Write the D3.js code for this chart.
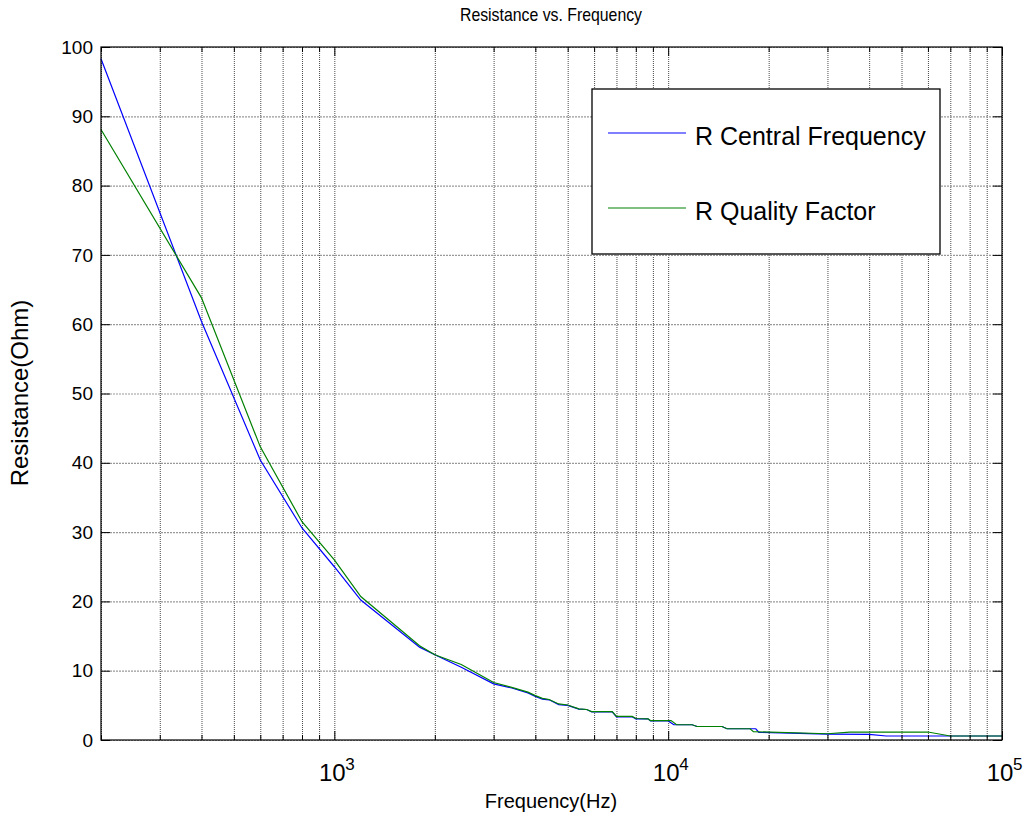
<!DOCTYPE html>
<html>
<head>
<meta charset="utf-8">
<script src="https://cdn.jsdelivr.net/npm/d3@7"></script>
<style>
  html, body { margin: 0; padding: 0; background: #fff; }
  svg { display: block; font-family: "Liberation Sans", Arial, sans-serif; }
</style>
</head>
<body>
<svg id="chart" width="1025" height="824"></svg>
<script>
// Frequency sweep (Hz) and extracted resistance (Ohm) for the two methods
const freqCentral = [200, 400, 600, 800, 1000, 1200, 1800, 2000, 2400, 3000, 3400, 3800, 4000, 4200, 4400, 4700, 5000,
  5400, 5700, 5900, 6800, 7000, 7800, 8000, 8700, 8850, 10000, 10400, 11800, 12200, 14500, 15000, 18300, 18700,
  30000, 40000, 45000, 100000];
const rCentral = [98.3, 60.4, 40.4, 30.6, 25.0, 20.2, 13.4, 12.3, 10.5, 8.1, 7.5, 6.8, 6.3, 5.9, 5.8, 5.1, 5.0,
  4.45, 4.4, 4.05, 4.05, 3.35, 3.35, 3.05, 3.05, 2.75, 2.75, 2.2, 2.2, 1.95, 1.95, 1.62, 1.62, 1.1,
  0.85, 0.82, 0.58, 0.58];

const freqQuality = [200, 400, 600, 800, 1000, 1200, 1800, 2000, 2400, 3000, 3400, 3800, 4000, 4200, 4400, 4700, 5000,
  5400, 5700, 5900, 6800, 7000, 7800, 8000, 8700, 8850, 10200, 10600, 11800, 12200, 14500, 15000, 17600, 18000,
  30000, 35000, 60000, 70000, 100000];
const rQuality = [88.1, 63.8, 42.3, 31.5, 26.0, 20.7, 13.6, 12.3, 10.9, 8.3, 7.6, 6.9, 6.4, 6.0, 5.85, 5.2, 5.05,
  4.5, 4.4, 4.1, 4.1, 3.4, 3.4, 3.1, 3.05, 2.8, 2.8, 2.2, 2.2, 1.95, 1.95, 1.62, 1.62, 1.2,
  0.9, 1.15, 1.15, 0.58, 0.58];

const seriesNames = ["R Central Frequency", "R Quality Factor"];
const seriesColors = ["#0000ff", "#008000"];

const yTicks = [0, 10, 20, 30, 40, 50, 60, 70, 80, 90, 100];
const xMajorTicks = [1000, 10000, 100000];
const xMajorExponents = ["3", "4", "5"];
const xMinorTicks = [200, 300, 400, 500, 600, 700, 800, 900,
  2000, 3000, 4000, 5000, 6000, 7000, 8000, 9000,
  20000, 30000, 40000, 50000, 60000, 70000, 80000, 90000];

const titleText = "Resistance vs. Frequency";
const xLabelText = "Frequency(Hz)";
const yLabelText = "Resistance(Ohm)";

// Plot frame
const plotLeft = 101, plotRight = 1002, plotTop = 47, plotBottom = 740;
const svg = d3.select("#chart");

const x = d3.scaleLog().domain([200, 100000]).range([plotLeft, plotRight]);
const y = d3.scaleLinear().domain([0, 100]).range([plotBottom, plotTop]);

// Dotted grid
const allX = xMinorTicks.concat(xMajorTicks).sort((a, b) => a - b);
svg.append("g")
  .attr("transform", `translate(0,${plotBottom})`)
  .call(d3.axisBottom(x).tickValues(allX).tickSize(-(plotBottom - plotTop)).tickFormat(""))
  .call(g => g.select(".domain").remove())
  .call(g => g.selectAll("line").attr("stroke", "#4a4a4a").attr("stroke-dasharray", "1,1"));
svg.append("g")
  .attr("transform", `translate(${plotLeft},0)`)
  .call(d3.axisLeft(y).tickValues(yTicks).tickSize(-(plotRight - plotLeft)).tickFormat(""))
  .call(g => g.select(".domain").remove())
  .call(g => g.selectAll("line").attr("stroke", "#999").attr("stroke-width", 1.2).attr("stroke-dasharray", "2,1"));

// Curves
const line = d3.line().x(d => x(d[0])).y(d => y(d[1]));
const seriesData = [
  d3.zip(freqCentral, rCentral),
  d3.zip(freqQuality, rQuality)
];
seriesData.forEach((data, i) => {
  svg.append("path")
    .datum(data)
    .attr("fill", "none")
    .attr("stroke", seriesColors[i])
    .attr("stroke-width", 1.2)
    .attr("d", line);
});

// Inward ticks on all four sides
function styleAxis(g) {
  g.select(".domain").remove();
  g.selectAll("line").attr("stroke", "#000");
  g.selectAll("text").remove();
}
svg.append("g").attr("transform", `translate(0,${plotBottom})`)
  .call(d3.axisBottom(x).tickValues(xMinorTicks).tickSize(-5)).call(styleAxis);
svg.append("g").attr("transform", `translate(0,${plotBottom})`)
  .call(d3.axisBottom(x).tickValues(xMajorTicks).tickSize(-9)).call(styleAxis);
svg.append("g").attr("transform", `translate(0,${plotTop})`)
  .call(d3.axisTop(x).tickValues(xMinorTicks).tickSize(-5)).call(styleAxis);
svg.append("g").attr("transform", `translate(0,${plotTop})`)
  .call(d3.axisTop(x).tickValues(xMajorTicks).tickSize(-9)).call(styleAxis);
svg.append("g").attr("transform", `translate(${plotLeft},0)`)
  .call(d3.axisLeft(y).tickValues(yTicks).tickSize(-9)).call(styleAxis);
svg.append("g").attr("transform", `translate(${plotRight},0)`)
  .call(d3.axisRight(y).tickValues(yTicks).tickSize(-9)).call(styleAxis);

// Axes box
svg.append("rect")
  .attr("x", plotLeft).attr("y", plotTop)
  .attr("width", plotRight - plotLeft).attr("height", plotBottom - plotTop)
  .attr("fill", "none").attr("stroke", "#000").attr("stroke-width", 1.2);

// Y tick labels
svg.append("g").selectAll("text").data(yTicks).join("text")
  .attr("x", plotLeft - 8).attr("y", d => y(d))
  .attr("dy", "0.35em")
  .attr("text-anchor", "end")
  .attr("font-size", 19)
  .text(d => d);

// X tick labels as powers of ten
const xl = svg.append("g").selectAll("g").data(xMajorTicks).join("g");
xl.append("text")
  .attr("x", d => x(d) - 2).attr("y", 781)
  .attr("text-anchor", "middle")
  .attr("font-size", 24)
  .text("10");
xl.append("text")
  .attr("x", d => x(d) + 11).attr("y", 770)
  .attr("font-size", 17)
  .text((d, i) => xMajorExponents[i]);

// Title (slightly condensed) and axis labels
svg.append("text").attr("transform", "translate(551,21) scale(0.88,1)").attr("text-anchor", "middle")
  .attr("font-size", 18).text(titleText);
svg.append("text").attr("x", 551).attr("y", 808).attr("text-anchor", "middle")
  .attr("font-size", 20).text(xLabelText);
svg.append("text").attr("transform", "translate(28,393) rotate(-90)").attr("text-anchor", "middle")
  .attr("font-size", 24).text(yLabelText);

// Legend
const lg = svg.append("g");
lg.append("rect").attr("x", 592).attr("y", 89).attr("width", 348).attr("height", 165)
  .attr("fill", "#fff").attr("stroke", "#000").attr("stroke-width", 1.3);
seriesNames.forEach((name, i) => {
  const ly = 133 + i * 75;
  lg.append("line").attr("x1", 608).attr("x2", 686).attr("y1", ly).attr("y2", ly)
    .attr("stroke", seriesColors[i]).attr("stroke-width", 1.2);
  lg.append("text").attr("x", 695).attr("y", ly + 12).attr("font-size", 25).text(name);
});
</script>
</body>
</html>
